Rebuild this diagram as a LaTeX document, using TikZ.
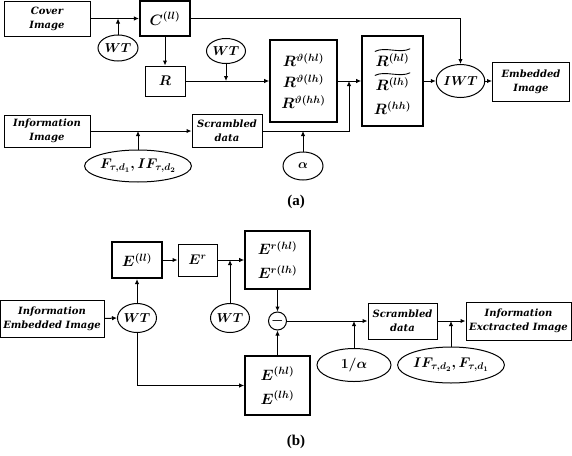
\RequirePackage{fix-cm}
\documentclass[tikz,border=0pt]{standalone}
\usepackage{amsmath,amssymb}
\usepackage{fontspec}
\newfontfamily\boxfont{DejaVu Serif}
\newfontfamily\labfont{Liberation Serif}
\usetikzlibrary{arrows.meta,shapes.geometric}
\begin{document}
\begin{tikzpicture}[x=1pt,y=-1pt,
  line width=1pt,
  arr/.style={-{Latex[length=5pt,width=4.5pt]}},
  blk/.style={draw, line width=1pt, inner sep=0pt, align=center,
    font=\boxfont\fontsize{10}{14}\selectfont\bfseries\itshape},
  mblk/.style={draw, line width=1.6pt, inner sep=0pt, align=center,
    font=\fontsize{15}{21}\selectfont\boldmath},
  tblk/.style={mblk, line width=2.2pt},
  mtxt/.style={inner sep=0pt, font=\fontsize{15}{21}\selectfont\boldmath},
  tld/.style={line width=0.9pt, line cap=round},
  ell/.style={draw, ellipse, line width=1pt, inner sep=0pt,
    font=\fontsize{13}{15}\selectfont\boldmath},
  lab/.style={font=\labfont\fontsize{15}{17}\selectfont\bfseries}
]
\useasboundingbox (0,0) rectangle (572,455);
% ---------- (a) ----------
\node[blk, minimum width=86pt, minimum height=35pt] (cover) at (47,18.5) {Cover\\Image};
\node[tblk, minimum width=50pt, minimum height=35pt] (C) at (165,18.5) {$C^{(ll)}$};
\node[ell, minimum width=40pt, minimum height=26pt] (wt1) at (118,48) {$WT$};
\node[blk, minimum width=40pt, minimum height=30pt, font=\fontsize{14}{16}\selectfont\boldmath] (R) at (165,81) {$R$};
\node[ell, minimum width=39pt, minimum height=25pt] (wt2) at (226,51) {$WT$};
\node[mblk, minimum width=67pt, minimum height=82pt] (Rth) at (303.5,81)
  {$R^{\vartheta(hl)}$\\$R^{\vartheta(lh)}$\\$R^{\vartheta(hh)}$};
\node[mblk, minimum width=61pt, minimum height=90pt] (Rt) at (392.5,81) {};
\node[mtxt] (rt1) at (392.5,60) {$R^{(hl)}$};
\node[mtxt] (rt2) at (392.5,84) {$R^{(lh)}$};
\node[mtxt] (rt3) at (392.5,108) {$R^{(hh)}$};
\draw[tld] ([yshift=1.5pt]rt1.north west) .. controls +(10,-5) and +(-10,5) .. ([yshift=4pt]rt1.north east);
\draw[tld] ([yshift=1.5pt]rt2.north west) .. controls +(10,-5) and +(-10,5) .. ([yshift=4pt]rt2.north east);
\node[ell, minimum width=39pt, minimum height=33pt] (iwt) at (460.5,81) {$IWT$};
\node[blk, minimum width=77pt, minimum height=39pt] (emb) at (531,81.5) {Embedded\\Image};
\node[blk, minimum width=86pt, minimum height=32pt] (info) at (47,131) {Information\\Image};
\node[blk, minimum width=70pt, minimum height=33pt] (scr) at (227,131) {Scrambled\\data};
\node[ell, minimum width=94pt, minimum height=32pt, font=\fontsize{14}{16}\selectfont\boldmath] (F) at (138,166)
  {$F_{\tau,d_1},IF_{\tau,d_2}$};
\node[ell, minimum width=40pt, minimum height=28pt] (alpha) at (303,166) {$\alpha$};
\node[lab] (la) at (296,202) {(a)};
\coordinate (j2) at (349,81);

\draw[arr] (cover.east) -- (cover.east -| C.west);
\draw[arr] (wt1.north) -- (wt1.north |- cover.east);
\draw[arr] (C.south) -- (R.north);
\draw[arr] (C.east) -| (iwt.north);
\draw[arr] (R.east) -- (R.east -| Rth.west);
\draw[arr] (wt2.south) -- (wt2.south |- R.east);
\draw[arr] (Rth.east) -- (Rth.east -| Rt.west);
\draw[arr] (scr.east) -| (j2);
\draw[arr] (alpha.north) -- (alpha.north |- scr.east);
\draw[arr] (info.east) -- (info.east -| scr.west);
\draw[arr] (F.north) -- (F.north |- info.east);
\draw[arr] (Rt.east) -- (iwt.west);
\draw[arr] (iwt.east) -- (iwt.east -| emb.west);

% ---------- (b) ----------
\node[tblk, minimum width=50pt, minimum height=36pt] (Ell) at (137,260) {$E^{(ll)}$};
\node[blk, minimum width=39pt, minimum height=32pt, font=\fontsize{14}{16}\selectfont\boldmath] (Er) at (197.5,260) {$E^{r}$};
\node[mblk, minimum width=65pt, minimum height=58pt, font=\fontsize{15}{24}\selectfont\boldmath] (Erb) at (277.5,260)
  {$E^{r(hl)}$\\$E^{r(lh)}$};
\node[mblk, minimum width=65pt, minimum height=59pt, font=\fontsize{15}{24}\selectfont\boldmath] (Eb) at (277.5,385.5)
  {$E^{(hl)}$\\$E^{(lh)}$};
\node[draw, circle, line width=1pt, minimum size=18pt, inner sep=0pt,
  font=\fontsize{14}{16}\selectfont\boldmath] (minus) at (277.5,321) {$-$};
\node[blk, minimum width=104pt, minimum height=37pt] (iei) at (52,318.5) {Information\\Embedded Image};
\node[ell, minimum width=39pt, minimum height=29pt] (wt3) at (137,318) {$WT$};
\node[ell, minimum width=39pt, minimum height=29pt] (wt4) at (230,318) {$WT$};
\node[blk, minimum width=69pt, minimum height=36pt] (scr2) at (402.5,321) {Scrambled\\data};
\node[blk, minimum width=105pt, minimum height=38pt] (iext) at (518.5,321) {Information\\Exctracted Image};
\node[ell, minimum width=74pt, minimum height=33pt, font=\fontsize{14}{16}\selectfont\boldmath] (oa) at (354,365) {$1/\alpha$};
\node[ell, minimum width=95pt, minimum height=36pt, font=\fontsize{14}{16}\selectfont\boldmath] (IF) at (451,365)
  {$IF_{\tau,d_2},F_{\tau,d_1}$};
\node[lab] (lb) at (296,442) {(b)};

\draw[arr] (iei.east) -- (wt3.west);
\draw[arr] (wt3.north) -- (Ell.south);
\draw[arr] (Ell.east) -- (Ell.east -| Er.west);
\draw[arr] (Er.east) -- (Er.east -| Erb.west);
\draw[arr] (wt4.north) -- (wt4.north |- Er.east);
\draw[arr] (Erb.south) -- (minus.north);
\draw[arr] (Eb.north) -- (minus.south);
\draw[arr] (wt3.south) |- (Eb.west);
\draw[arr] (minus.east) -- (minus.east -| scr2.west);
\draw[arr] (oa.north) -- (oa.north |- minus.east);
\draw[arr] (scr2.east) -- (scr2.east -| iext.west);
\draw[arr] (IF.north) -- (IF.north |- scr2.east);
\end{tikzpicture}
\end{document}
